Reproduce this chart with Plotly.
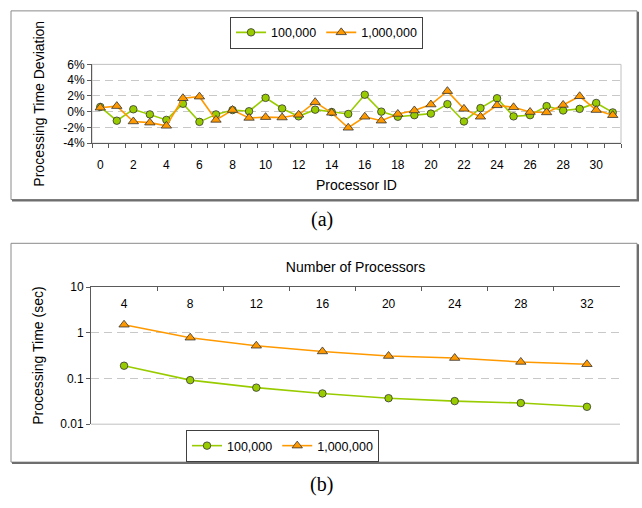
import plotly.graph_objects as go

# ---------------- data ----------------
proc_ids = list(range(32))
dev_100k = [0.6, -1.15, 0.3, -0.35, -1.05, 1.0, -1.3, -0.35, 0.2, 0.05, 1.75, 0.4, -0.6, 0.25, -0.05, -0.3,
            2.15, 0.0, -0.65, -0.45, -0.25, 0.95, -1.25, 0.45, 1.7, -0.6, -0.45, 0.7, 0.15, 0.35, 1.1, -0.1]
dev_1m = [0.5, 0.7, -1.25, -1.4, -1.8, 1.7, 1.9, -1.05, 0.2, -0.8, -0.7, -0.75, -0.4, 1.2, -0.15, -2.05,
          -0.65, -1.15, -0.3, 0.15, 0.9, 2.6, 0.35, -0.65, 0.8, 0.55, -0.05, -0.1, 0.85, 1.95, 0.2, -0.45]
top_xticks = list(range(0, 31, 2))
top_yticks = [-4, -2, 0, 2, 4, 6]
top_yticktext = ["-4%", "-2%", "0%", "2%", "4%", "6%"]

n_procs = ["4", "8", "12", "16", "20", "24", "28", "32"]
time_100k = [0.19, 0.092, 0.063, 0.047, 0.037, 0.032, 0.029, 0.024]
time_1m = [1.5, 0.78, 0.52, 0.39, 0.31, 0.28, 0.23, 0.205]
bot_yticks = [0.01, 0.1, 1, 10]
bot_yticktext = ["0.01", "0.1", "1", "10"]

series_names = ["100,000", "1,000,000"]

# ---------------- styling ----------------
W, H = 642, 508
GREEN = "#99cc00"
ORANGE = "#ff9900"
EDGE = "#333333"
FONT = "Arial, Liberation Sans, sans-serif"


def fx(px):
    return px / W


def fy(py):
    return 1 - py / H


top_dom_x = [fx(92), fx(621)]
top_dom_y = [fy(140), fy(59)]
bot_dom_x = [fx(91), fx(620)]
bot_dom_y = [fy(429), fy(288)]

fig = go.Figure()

# top chart traces
fig.add_trace(go.Scatter(
    x=proc_ids, y=dev_100k, name=series_names[0], mode="lines+markers",
    line=dict(color=GREEN, width=1.6),
    marker=dict(symbol="circle", size=7.5, color=GREEN, line=dict(color=EDGE, width=0.8)),
    xaxis="x", yaxis="y", legend="legend"))
fig.add_trace(go.Scatter(
    x=proc_ids, y=dev_1m, name=series_names[1], mode="lines+markers",
    line=dict(color=ORANGE, width=1.6),
    marker=dict(symbol="triangle-up", size=9, color=ORANGE, line=dict(color=EDGE, width=0.8)),
    xaxis="x", yaxis="y", legend="legend"))

# bottom chart traces
fig.add_trace(go.Scatter(
    x=n_procs, y=time_100k, name=series_names[0], mode="lines+markers",
    line=dict(color=GREEN, width=1.6),
    marker=dict(symbol="circle", size=7.5, color=GREEN, line=dict(color=EDGE, width=0.8)),
    xaxis="x2", yaxis="y2", legend="legend2"))
fig.add_trace(go.Scatter(
    x=n_procs, y=time_1m, name=series_names[1], mode="lines+markers",
    line=dict(color=ORANGE, width=1.6),
    marker=dict(symbol="triangle-up", size=9, color=ORANGE, line=dict(color=EDGE, width=0.8)),
    xaxis="x2", yaxis="y2", legend="legend2"))

axis_font = dict(family=FONT, size=12, color="#000000")
title_font = dict(family=FONT, size=14, color="#000000")
AXIS_COL = "#5a5a5a"
GRID_COL = "#c8c8c8"

shapes = []
# panel frames
for (y0, y1) in [(4, 198), (243, 468)]:
    shapes.append(dict(type="rect", xref="paper", yref="paper", x0=fx(11), x1=fx(637), y0=fy(y1), y1=fy(y0),
                       line=dict(color="#8a8a8a", width=1), layer="below"))
    shapes.append(dict(type="line", xref="paper", yref="paper", x0=fx(638), x1=fx(638), y0=fy(y1 + 1), y1=fy(y0 + 1),
                       line=dict(color="#6e6e6e", width=2), layer="below"))
    shapes.append(dict(type="line", xref="paper", yref="paper", x0=fx(12), x1=fx(639), y0=fy(y1 + 1), y1=fy(y1 + 1),
                       line=dict(color="#6e6e6e", width=2), layer="below"))
# plot area borders (light)
shapes.append(dict(type="rect", xref="paper", yref="paper", x0=top_dom_x[0], x1=top_dom_x[1],
                   y0=top_dom_y[0], y1=top_dom_y[1], line=dict(color="#c0c0c0", width=1), layer="below"))
shapes.append(dict(type="line", xref="paper", yref="paper", x0=bot_dom_x[0], x1=bot_dom_x[1],
                   y0=bot_dom_y[0], y1=bot_dom_y[0], line=dict(color="#c0c0c0", width=1), layer="below"))

fig.update_layout(
    width=W, height=H,
    margin=dict(l=0, r=0, t=0, b=0),
    paper_bgcolor="white", plot_bgcolor="rgba(0,0,0,0)",
    font=dict(family=FONT, color="#000000"),
    showlegend=True,
    xaxis=dict(
        domain=top_dom_x, anchor="y", range=[-0.5, 31.5],
        tickmode="array", tickvals=top_xticks, ticks="",
        minor=dict(ticks="outside", tick0=-0.5, dtick=1, ticklen=4, tickcolor=AXIS_COL, showgrid=False),
        showline=True, linecolor=AXIS_COL, linewidth=1, showgrid=False, zeroline=False,
        tickfont=axis_font, ticklabelstandoff=10,
        title=dict(text="Processor ID", font=title_font, standoff=9),
    ),
    yaxis=dict(
        domain=top_dom_y, anchor="x", range=[-4, 6],
        tickmode="array", tickvals=top_yticks, ticktext=top_yticktext,
        ticks="outside", ticklen=4, tickcolor=AXIS_COL,
        showline=True, linecolor=AXIS_COL, linewidth=1,
        showgrid=True, gridcolor=GRID_COL, griddash="8px,5px", gridwidth=1, zeroline=False,
        tickfont=axis_font,
        title=dict(text="Processing Time Deviation", font=title_font, standoff=15),
    ),
    xaxis2=dict(
        domain=bot_dom_x, anchor="y2", side="top", type="category",
        categoryorder="array", categoryarray=n_procs, range=[-0.5, 7.5],
        tickson="boundaries", ticks="inside", ticklen=4, tickcolor=AXIS_COL,
        ticklabelposition="outside", ticklabelstandoff=-27,
        showline=True, linecolor=AXIS_COL, linewidth=1, showgrid=False, zeroline=False,
        tickfont=axis_font,
        title=dict(text="Number of Processors", font=title_font, standoff=21),
    ),
    yaxis2=dict(
        domain=bot_dom_y, anchor="x2", type="log", range=[-2, 1],
        tickmode="array", tickvals=bot_yticks, ticktext=bot_yticktext,
        ticks="outside", ticklen=4, tickcolor=AXIS_COL,
        showline=True, linecolor=AXIS_COL, linewidth=1,
        showgrid=True, gridcolor=GRID_COL, griddash="8px,5px", gridwidth=1, zeroline=False,
        tickfont=axis_font,
        title=dict(text="Processing Time (sec)", font=title_font, standoff=13),
    ),
    legend=dict(
        x=fx(230), y=fy(10), xanchor="left", yanchor="top", orientation="h",
        bordercolor="#404040", borderwidth=1, bgcolor="white",
        font=dict(family=FONT, size=12.5, color="#000000"),
        itemwidth=30, tracegroupgap=0,
    ),
    legend2=dict(
        x=fx(186), y=fy(435), xanchor="left", yanchor="top", orientation="h",
        bordercolor="#404040", borderwidth=1, bgcolor="white",
        font=dict(family=FONT, size=12.5, color="#000000"),
        itemwidth=30, tracegroupgap=0,
    ),
    shapes=shapes,
    annotations=[
        dict(text="(a)", xref="paper", yref="paper", x=fx(322), y=fy(219), xanchor="center", yanchor="middle",
             showarrow=False, font=dict(family="Liberation Serif, DejaVu Serif, serif", size=20, color="#000000")),
        dict(text="(b)", xref="paper", yref="paper", x=fx(322), y=fy(491), xanchor="center", yanchor="middle",
             showarrow=False, font=dict(family="Liberation Serif, DejaVu Serif, serif", size=20, color="#000000")),
    ],
)

fig.write_html("out.html")
